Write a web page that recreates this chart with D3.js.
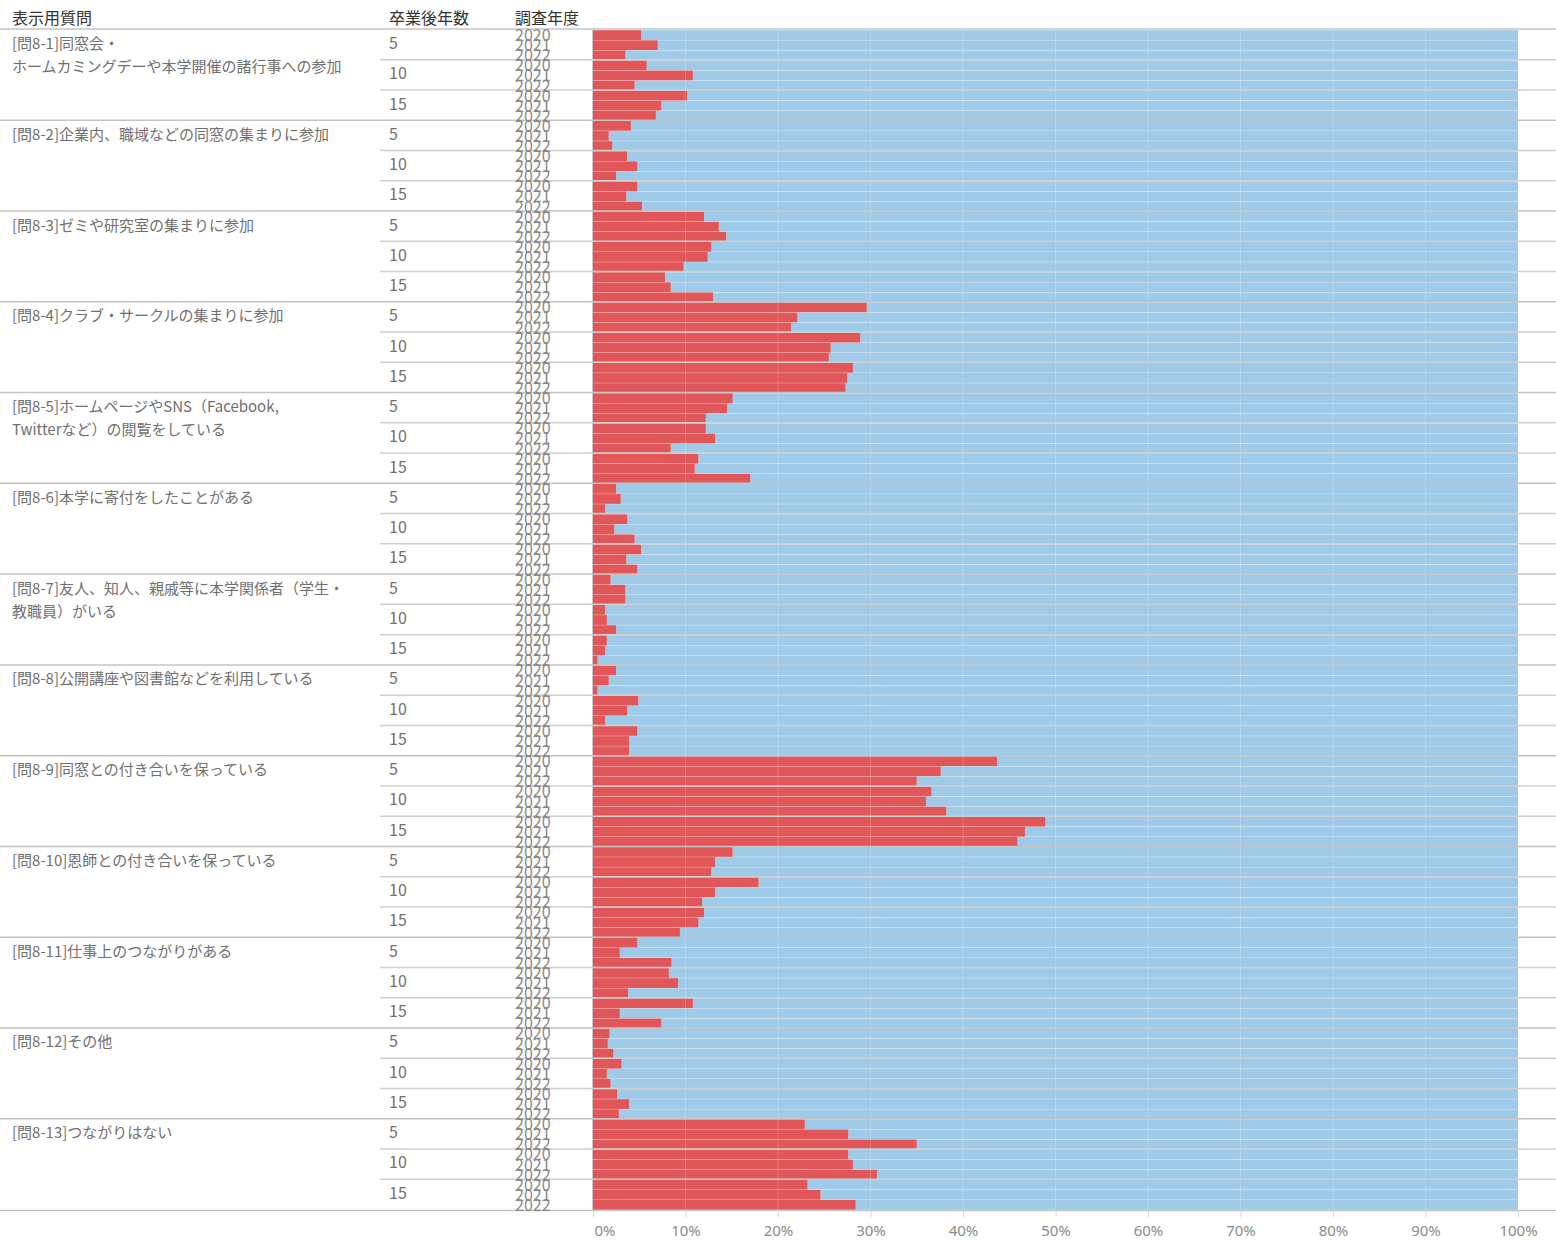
<!DOCTYPE html>
<html>
<head>
<meta charset="utf-8">
<script src="https://cdn.jsdelivr.net/npm/d3@7"></script>
<style>
  body { margin: 0; background: #fff; }
  text { font-family: "Noto Sans CJK JP", "Noto Sans", sans-serif; }
</style>
</head>
<body>
<svg id="chart" width="1556" height="1240"></svg>
<script>
// question labels (line breaks as in the original layout)
const questions = [
  ["[問8-1]同窓会・", "ホームカミングデーや本学開催の諸行事への参加"],
  ["[問8-2]企業内、職域などの同窓の集まりに参加"],
  ["[問8-3]ゼミや研究室の集まりに参加"],
  ["[問8-4]クラブ・サークルの集まりに参加"],
  ["[問8-5]ホームページやSNS（Facebook,", "Twitterなど）の閲覧をしている"],
  ["[問8-6]本学に寄付をしたことがある"],
  ["[問8-7]友人、知人、親戚等に本学関係者（学生・", "教職員）がいる"],
  ["[問8-8]公開講座や図書館などを利用している"],
  ["[問8-9]同窓との付き合いを保っている"],
  ["[問8-10]恩師との付き合いを保っている"],
  ["[問8-11]仕事上のつながりがある"],
  ["[問8-12]その他"],
  ["[問8-13]つながりはない"]
];
const gradYears = ["5", "10", "15"];
const surveyYears = ["2020", "2021", "2022"];
const headers = ["表示用質問", "卒業後年数", "調査年度"];
const tickValues = [0, 0.1, 0.2, 0.3, 0.4, 0.5, 0.6, 0.7, 0.8, 0.9, 1];

// share (%) answering yes, per question -> [5y, 10y, 15y] -> [2020, 2021, 2022]
const yesPct = [
  [[5.2, 7.0, 3.5], [5.8, 10.8, 4.5], [10.2, 7.4, 6.8]],
  [[4.1, 1.7, 2.1], [3.7, 4.8, 2.5], [4.8, 3.6, 5.3]],
  [[12.0, 13.6, 14.4], [12.8, 12.4, 9.8], [7.8, 8.4, 13.0]],
  [[29.6, 22.1, 21.4], [28.9, 25.7, 25.5], [28.1, 27.5, 27.3]],
  [[15.1, 14.5, 12.2], [12.2, 13.2, 8.4], [11.4, 11.0, 17.0]],
  [[2.5, 3.0, 1.3], [3.7, 2.3, 4.5], [5.2, 3.6, 4.8]],
  [[1.9, 3.5, 3.5], [1.3, 1.5, 2.5], [1.5, 1.3, 0.5]],
  [[2.5, 1.7, 0.5], [4.9, 3.7, 1.3], [4.8, 3.9, 3.9]],
  [[43.7, 37.6, 35.0], [36.6, 36.0, 38.2], [48.9, 46.7, 45.9]],
  [[15.1, 13.2, 12.8], [17.9, 13.2, 11.8], [12.0, 11.4, 9.4]],
  [[4.8, 2.9, 8.5], [8.2, 9.2, 3.8], [10.8, 2.9, 7.4]],
  [[1.8, 1.6, 2.2], [3.1, 1.5, 1.9], [2.6, 3.9, 2.8]],
  [[22.9, 27.6, 35.0], [27.6, 28.1, 30.7], [23.2, 24.6, 28.4]]
];

const svg = d3.select("#chart");
const width = +svg.attr("width");

const plotTop = 30, plotBottom = 1210;
const plotLeft = 593, plotRight = 1518;

// flatten into one row per bar
const rows = [];
questions.forEach((q, qi) => {
  gradYears.forEach((g, gi) => {
    surveyYears.forEach((s, si) => {
      rows.push({ key: qi + "-" + gi + "-" + si, q: qi, g: gi, s: s, v: yesPct[qi][gi][si] / 100 });
    });
  });
});

const x = d3.scaleLinear().domain([0, 1]).range([plotLeft, plotRight]);
const y = d3.scaleBand().domain(rows.map(d => d.key)).range([plotTop, plotBottom]).paddingInner(0.03).paddingOuter(0.02);
const yQ = d3.scaleBand().domain(d3.range(questions.length)).range([plotTop, plotBottom]);
const yG = d3.scaleBand().domain(d3.range(questions.length * gradYears.length)).range([plotTop, plotBottom]);

const red = "#e15759", blue = "#a0cbe8";

// bars: red = yes share, blue = remainder up to 100%
const bars = svg.append("g");
bars.selectAll("rect.blue").data(rows).join("rect")
  .attr("class", "blue")
  .attr("x", d => x(d.v))
  .attr("y", d => y(d.key))
  .attr("width", d => x(1) - x(d.v))
  .attr("height", y.bandwidth())
  .attr("fill", blue);
bars.selectAll("rect.red").data(rows).join("rect")
  .attr("class", "red")
  .attr("x", x(0))
  .attr("y", d => y(d.key))
  .attr("width", d => x(d.v) - x(0))
  .attr("height", y.bandwidth())
  .attr("fill", red);

// faint vertical gridlines
svg.append("g").selectAll("line").data(tickValues.slice(1, -1)).join("line")
  .attr("x1", d => x(d)).attr("x2", d => x(d))
  .attr("y1", plotTop).attr("y2", plotBottom)
  .attr("stroke", "#fff").attr("stroke-opacity", 0.2);

// separators between graduation-year groups
const groupIdx = d3.range(1, questions.length * gradYears.length).filter(i => i % gradYears.length !== 0);
svg.append("g").selectAll("line").data(groupIdx).join("line")
  .attr("x1", 380).attr("x2", width)
  .attr("y1", d => yG(d) - 0.5).attr("y2", d => yG(d) - 0.5)
  .attr("stroke", "#cfcfcf").attr("stroke-width", 1.5);

// separators between questions
svg.append("g").selectAll("line").data(d3.range(1, questions.length)).join("line")
  .attr("x1", 0).attr("x2", width)
  .attr("y1", d => yQ(d) - 0.5).attr("y2", d => yQ(d) - 0.5)
  .attr("stroke", "#c4c4c4").attr("stroke-width", 1.5);

// header line, axis line and zero line
svg.append("line").attr("x1", 0).attr("x2", width).attr("y1", plotTop - 1).attr("y2", plotTop - 1)
  .attr("stroke", "#c4c4c4").attr("stroke-width", 1.5);
svg.append("line").attr("x1", 0).attr("x2", width).attr("y1", plotBottom + 0.5).attr("y2", plotBottom + 0.5)
  .attr("stroke", "#c4c4c4").attr("stroke-width", 1.5);
svg.append("line").attr("x1", plotLeft - 0.5).attr("x2", plotLeft - 0.5).attr("y1", plotTop - 1).attr("y2", plotBottom)
  .attr("stroke", "#c8c8c8").attr("stroke-width", 1);

// column headers
const headerX = [12, 389, 515];
svg.append("g").selectAll("text").data(headers).join("text")
  .attr("x", (d, i) => headerX[i]).attr("y", 24)
  .attr("font-size", 16).attr("fill", "#333")
  .text(d => d);

// question labels
const qLabels = svg.append("g").selectAll("text").data(questions).join("text")
  .attr("x", 12).attr("y", (d, i) => yQ(i) + 19)
  .attr("font-size", 15).attr("fill", "#707070");
qLabels.selectAll("tspan").data(d => d).join("tspan")
  .attr("x", 12).attr("dy", (d, i) => i === 0 ? 0 : 23)
  .text(d => d);

// graduation-year labels
const gradRows = [];
questions.forEach((q, qi) => gradYears.forEach((g, gi) => gradRows.push({ i: qi * gradYears.length + gi, g: g })));
svg.append("g").selectAll("text").data(gradRows).join("text")
  .attr("x", 389).attr("y", d => yG(d.i) + 19)
  .attr("font-size", 16).attr("fill", "#707070")
  .text(d => d.g);

// survey-year labels (rows are shorter than the text, so they overlap as in the source)
svg.append("g").selectAll("text").data(rows).join("text")
  .attr("x", 515).attr("y", d => y(d.key) + y.bandwidth() / 2 + 6)
  .attr("font-size", 16).attr("fill", "#8a8a8a")
  .text(d => d.s);

// bottom axis
const axis = svg.append("g")
  .attr("transform", `translate(0,${plotBottom + 1})`)
  .call(d3.axisBottom(x).tickValues(tickValues).tickFormat(d3.format(".0%")).tickSize(6).tickPadding(8));
axis.select(".domain").remove();
axis.selectAll(".tick line").attr("stroke", "#d8d8d8");
axis.selectAll(".tick text")
  .attr("font-size", 15).attr("fill", "#8a8a8a")
  .style("font-family", "'Noto Sans', sans-serif");
axis.selectAll(".tick text").filter(d => d === 0).attr("text-anchor", "start").attr("x", 1);
</script>
</body>
</html>
